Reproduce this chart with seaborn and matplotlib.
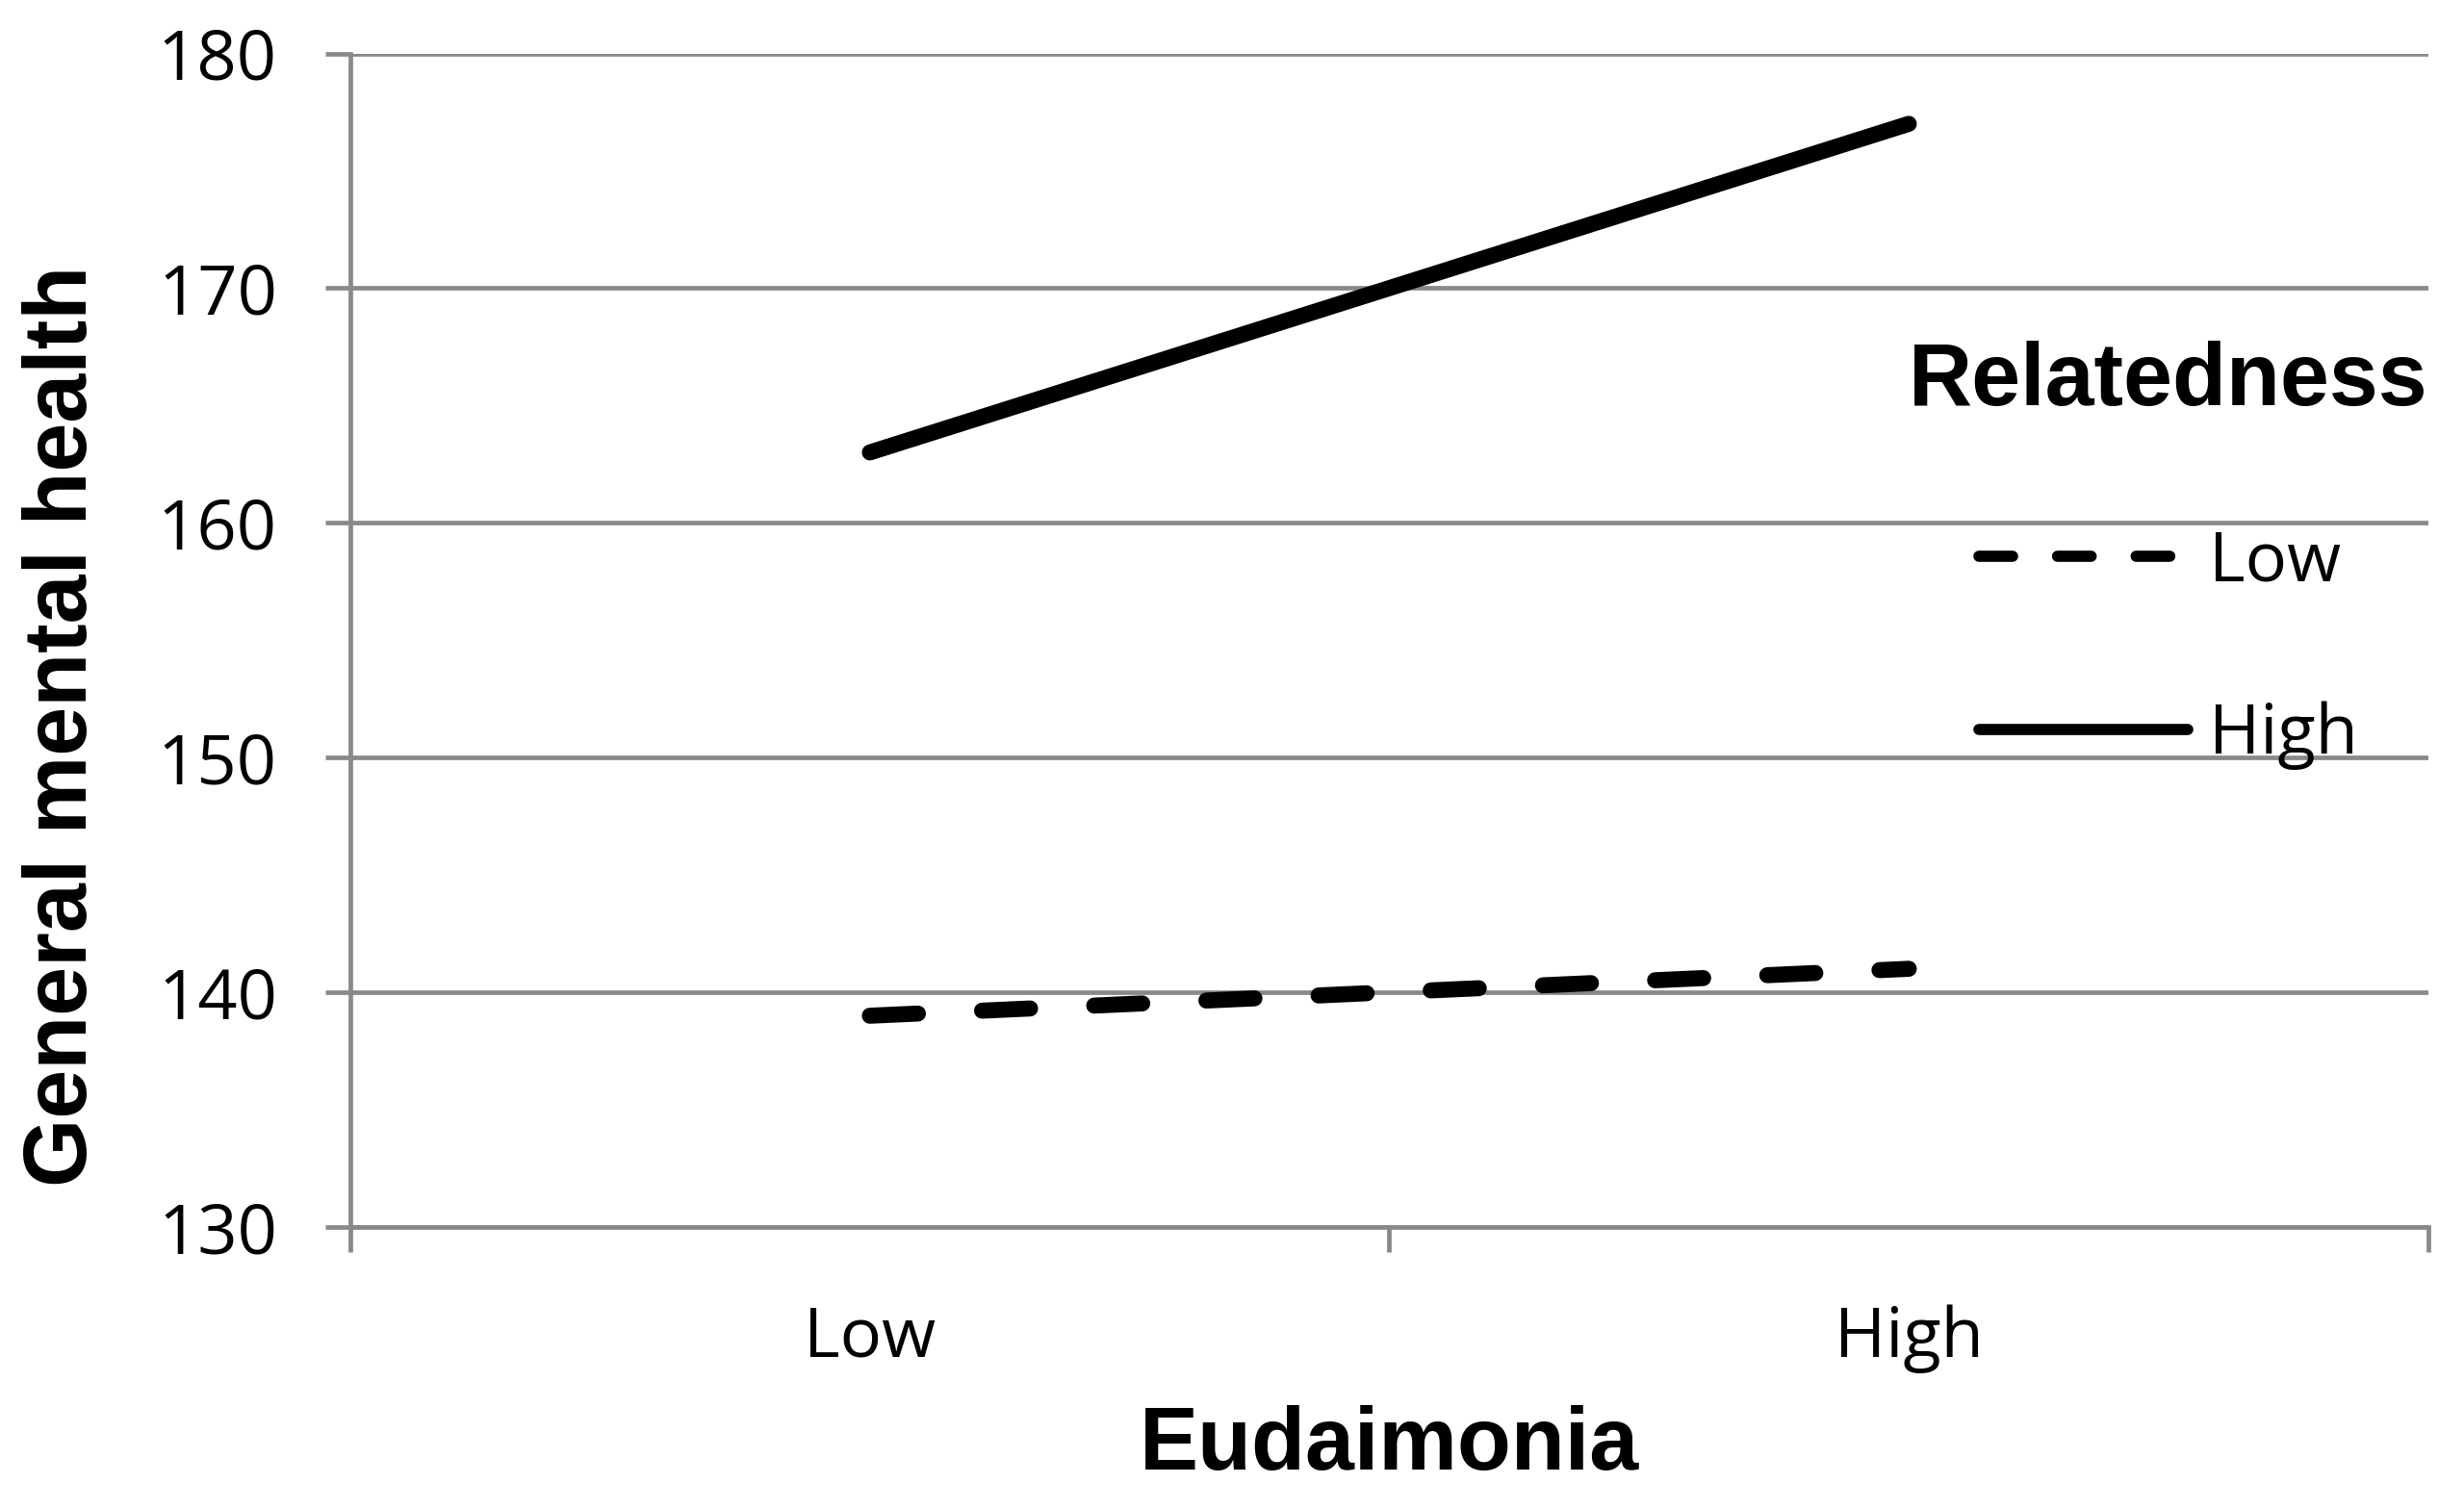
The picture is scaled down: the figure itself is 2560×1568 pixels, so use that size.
import pandas as pd
import matplotlib
matplotlib.use("Agg")
import matplotlib.pyplot as plt
import seaborn as sns

# data
eudaimonia = ["Low", "High"]
relatedness = ["Low", "High"]
mh_low_rel = [139, 141]
mh_high_rel = [163, 177]
y_ticks = [130, 140, 150, 160, 170, 180]

sns.set_theme(style="white")
plt.rcParams["font.family"] = ["Open Sans", "DejaVu Sans"]
plt.rcParams["text.color"] = "black"
plt.rcParams["axes.labelcolor"] = "black"

GRAY = "#898989"
BOLD = {"family": ["Liberation Sans", "DejaVu Sans"], "weight": "bold", "size": 33}

fig = plt.figure(figsize=(12.8, 7.84), dpi=200)
ax = fig.add_axes([0.1422, 0.1869, 0.8433, 0.7777])

series = {"Low": mh_low_rel, "High": mh_high_rel}
styles = {"Low": dict(lw=6, linestyle=(0, (3.0, 4.0)), dash_capstyle="round"),
          "High": dict(lw=6, linestyle="-", solid_capstyle="round")}
for name in relatedness:
    df = pd.DataFrame({"Eudaimonia": eudaimonia, "mh": series[name]})
    sns.lineplot(data=df, x="Eudaimonia", y="mh", ax=ax, color="black",
                 label=name, **styles[name])

# axes
ax.set_xlim(-0.5, 1.5)
ax.set_ylim(130, 180)
ax.set_yticks(y_ticks)
ax.set_xticks([-0.5, 0.5, 1.5])
ax.set_xticklabels([])
ax.set_xticks([0, 1], minor=True)
ax.set_xticklabels(eudaimonia, minor=True)

ax.tick_params(axis="x", which="major", bottom=True, length=9.4, width=1.7,
               color=GRAY, direction="out")
ax.tick_params(axis="x", which="minor", bottom=True, length=0, pad=29,
               labelsize=26, labelcolor="black")
ax.tick_params(axis="y", left=True, length=9.4, width=1.7, color=GRAY,
               direction="out", pad=18, labelsize=26, labelcolor="black")

ax.grid(axis="y", color=GRAY, lw=1.7)
ax.grid(axis="x", visible=False)
for s in ["top", "right"]:
    ax.spines[s].set_visible(False)
for s in ["left", "bottom"]:
    ax.spines[s].set_color(GRAY)
    ax.spines[s].set_linewidth(1.7)

ax.set_xlabel("Eudaimonia", fontdict=BOLD)
ax.set_ylabel("General mental health", fontdict=BOLD)
ax.xaxis.set_label_coords(0.5, -0.152)
ax.yaxis.set_label_coords(-0.118, 0.427)

leg = ax.legend(title="Relatedness", loc="upper right", bbox_to_anchor=(1.0, 0.755),
                frameon=False, fontsize=26, title_fontproperties=BOLD,
                handlelength=3.0, handletextpad=0.3, labelspacing=1.5,
                borderpad=0, borderaxespad=0)
for h in leg.get_lines():
    h.set_linewidth(4.2)
for t in leg.get_texts():
    t.set_color("black")

fig.savefig("out.png", dpi=200)
